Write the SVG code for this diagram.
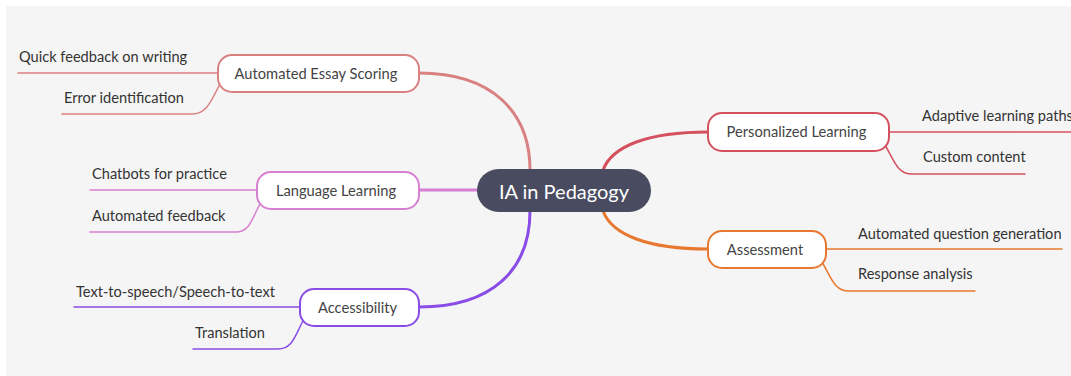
<svg xmlns="http://www.w3.org/2000/svg" width="1071" height="376" viewBox="0 0 1071 376">
  <style>
    .bg { fill: #f5f5f5; }
    .node rect { fill: #ffffff; stroke-width: 2; }
    .label { font-family: Lato, "Liberation Sans", sans-serif; font-size: 14.7px; fill: #444444; text-anchor: middle; dominant-baseline: central; }
    .leaf { font-family: Lato, "Liberation Sans", sans-serif; font-size: 14.6px; fill: #333333; }
    .main { fill: none; stroke-width: 3; stroke-linecap: round; }
    .sub { fill: none; stroke-width: 1.5; stroke-linecap: round; }
    .c-aes { stroke: #d98080; }
    .c-lang { stroke: #d77fd0; }
    .c-acc { stroke: #8a4ce6; }
    .c-pers { stroke: #d4505f; }
    .c-ass { stroke: #e8782f; }
  </style>

  <rect class="bg" x="6" y="6" width="1065" height="370"/>

  <!-- connectors -->
  <g id="connectors">
    <path class="main c-aes" d="M419,73 C492,73 530,112 530,170"/>
    <path class="main c-lang" d="M419,190 L478,190"/>
    <path class="main c-acc" d="M530,211 C530,270 492,307 419,307"/>
    <path class="main c-pers" d="M603,170 C612,146 648,132 708,132"/>
    <path class="main c-ass" d="M603,211 C612,235 648,249 708,249"/>

    <path class="sub c-aes" d="M218,73 L18,73"/>
    <path class="sub c-aes" d="M220,84 C212,98 208,114 192,114 L62,114"/>
    <path class="sub c-lang" d="M257,190 L90,190"/>
    <path class="sub c-lang" d="M261,202 C252,218 250,232 236,232 L90,232"/>
    <path class="sub c-acc" d="M300,307 L74,307"/>
    <path class="sub c-acc" d="M304,319 C295,335 293,349 278,349 L193,349"/>
    <path class="sub c-pers" d="M889,132 L1071,132"/>
    <path class="sub c-pers" d="M885,145 C894,160 897,174 912,174 L1025,174"/>
    <path class="sub c-ass" d="M826,249 L1062,249"/>
    <path class="sub c-ass" d="M822,262 C831,277 834,291 849,291 L975,291"/>
  </g>

  <!-- central topic -->
  <g id="center">
    <rect x="477" y="169" width="174" height="43" rx="21.5" fill="#494b60"/>
    <text x="564" y="190.5" font-family="Lato, 'Liberation Sans', sans-serif" font-size="20" fill="#ffffff" text-anchor="middle" dominant-baseline="central">IA in Pedagogy</text>
  </g>

  <!-- branch nodes -->
  <g id="aes" class="node">
    <rect x="218" y="55" width="201" height="37" rx="14" stroke="#d98080"/>
    <text class="label" x="316" y="72.5">Automated Essay Scoring</text>
  </g>
  <g id="lang" class="node">
    <rect x="257" y="172" width="162" height="37" rx="14" stroke="#d77fd0"/>
    <text class="label" x="336" y="189.5">Language Learning</text>
  </g>
  <g id="acc" class="node">
    <rect x="300" y="289" width="119" height="37" rx="14" stroke="#8a4ce6"/>
    <text class="label" x="357.5" y="306.5">Accessibility</text>
  </g>
  <g id="pers" class="node">
    <rect x="708" y="113" width="181" height="38" rx="14" stroke="#d4505f"/>
    <text class="label" x="796.5" y="131">Personalized Learning</text>
  </g>
  <g id="ass" class="node">
    <rect x="708" y="231" width="118" height="37" rx="14" stroke="#e8782f"/>
    <text class="label" x="765" y="248.5">Assessment</text>
  </g>

  <!-- leaf labels -->
  <g id="leaf-quick"><text class="leaf" x="19" y="62">Quick feedback on writing</text></g>
  <g id="leaf-error"><text class="leaf" x="64" y="103">Error identification</text></g>
  <g id="leaf-chatbots"><text class="leaf" x="92" y="179">Chatbots for practice</text></g>
  <g id="leaf-autofb"><text class="leaf" x="92" y="221">Automated feedback</text></g>
  <g id="leaf-tts"><text class="leaf" x="76" y="297">Text-to-speech/Speech-to-text</text></g>
  <g id="leaf-translation"><text class="leaf" x="195" y="338">Translation</text></g>
  <g id="leaf-adaptive"><text class="leaf" x="922" y="121" font-size="14">Adaptive learning paths</text></g>
  <g id="leaf-custom"><text class="leaf" x="923" y="162">Custom content</text></g>
  <g id="leaf-aqg"><text class="leaf" x="858" y="239">Automated question generation</text></g>
  <g id="leaf-response"><text class="leaf" x="858" y="279">Response analysis</text></g>
</svg>
